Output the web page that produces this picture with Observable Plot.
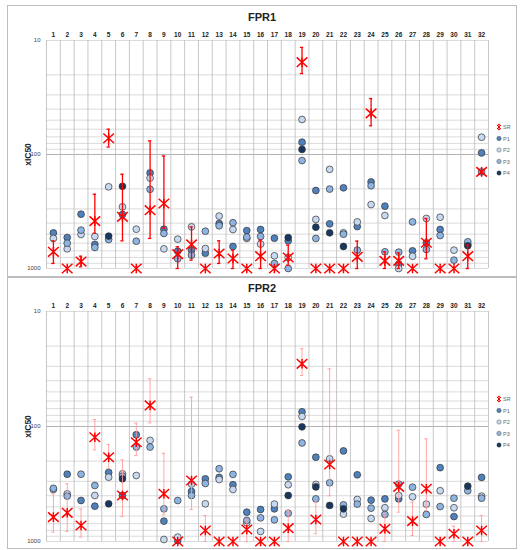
<!DOCTYPE html>
<html><head><meta charset="utf-8">
<script src="https://cdn.jsdelivr.net/npm/d3@7"></script>
<script src="https://cdn.jsdelivr.net/npm/@observablehq/plot@0.6"></script>
<style>
body{margin:0;width:520px;height:550px;position:relative;background:#fff;font-family:"Liberation Sans",Arial,sans-serif;overflow:hidden}
.pl{position:absolute;left:0}
.box{position:absolute;border:1px solid #bdbdbd;left:7px;width:508px;height:270px;pointer-events:none}
.title{position:absolute;left:0;width:524px;text-align:center;font-weight:bold;font-size:11px;line-height:12px;color:#222}
g[aria-label="y-axis label"] text{font-weight:bold;font-size:8.5px;fill:#222}
#leg{position:absolute;left:0;top:0}
</style></head>
<body>
<div id="p1" class="pl" style="top:0"></div>
<div id="p2" class="pl" style="top:276px"></div>
<div class="box" style="top:5px"></div>
<div class="box" style="top:277px"></div>
<div class="title" style="top:11px">FPR1</div>
<div class="title" style="top:282px">FPR2</div>
<svg id="leg" width="520" height="550"></svg>
<script>
const cats = [1,2,3,4,5,6,7,8,9,10,11,12,13,14,15,16,17,18,19,20,21,22,23,24,25,26,27,28,29,30,31,32];
const series = ["P1","P2","P3","P4"];
const seriesColors = ["#4f81bd","#c6d9f1","#8db4e2","#17375e"];

// FPR1
const fpr1_SR   = [714,1000,869,384,72,352,1000,308,269,748,615,1000,738,817,1000,780,1000,801,15.5,1000,1000,1000,790,43.6,857,857,1000,595,1000,1000,780,142];
const fpr1_SRlo = [573,null,780,223,60,149,null,76,103,645,432,null,572,690,null,564,null,624,11.5,null,null,null,575,32.3,714,730,null,364,null,null,624,null];
const fpr1_SRhi = [903,null,966,490,86,572,null,545,443,1000,845,null,903,1000,null,1000,null,935,19.5,null,null,null,1000,56,1000,1000,null,822,null,null,1000,null];
const fpr1_P1 = [487,535,334,615,null,336,null,145,452,705,690,734,403,641,465,455,542,572,78,207,406,196,429,174,284,916,700,595,455,null,null,96.8];
const fpr1_P2 = [545,672,503,524,192,288,452,161,672,553,431,668,347,455,545,611,774,801,49.3,371,135,486,390,275,343,1000,780,364,355,690,615,70.5];
const fpr1_P3 = [null,600,461,654,557,null,576,202,493,822,764,471,422,397,530,524,904,1000,113,545,201,500,690,188,714,719,390,681,514,845,583,142];
const fpr1_P4 = [null,null,null,null,520,190,null,null,null,null,null,null,null,null,null,null,null,535,90.3,434,486,641,null,null,null,null,null,null,null,null,632,null];

// FPR2
const fpr2_SR   = [614,563,726,124,185,398,137,65.6,385,1000,295,802,1000,1000,787,1000,1000,766,28.5,644,214,1000,1000,1000,776,335,665,348,1000,857,1000,802];
const fpr2_SRlo = [385,315,520,87,143,195,93.5,38.5,171,null,55.6,594,null,null,648,null,null,537,21.1,455,31.5,null,null,null,574,108,455,128,null,736,null,594];
const fpr2_SRhi = [830,818,916,160,233,607,179,93,586,null,527,1000,null,null,1000,null,null,1000,36,857,400,null,null,null,1000,556,887,537,null,1000,null,1000];
const fpr2_P1 = [null,260,440,493,251,398,118,null,665,980,367,285,277,321,556,527,520,274,74.5,185,null,163,263,437,426,426,null,null,228,607,null,277];
const fpr2_P2 = [353,385,null,398,276,258,267,132,961,916,317,470,289,353,688,818,473,321,81.8,319,191,578,431,631,509,398,409,473,362,509,null,403];
const fpr2_P3 = [345,403,260,326,null,270,151,151,520,440,398,313,233,261,656,623,648,568,139,426,309,480,473,513,582,317,337,582,497,420,362,420];
const fpr2_P4 = [null,null,null,null,470,285,null,null,null,null,null,null,null,null,null,null,null,398,100.7,335,486,520,null,null,null,null,null,null,null,null,330,null];

const yTickLabels = [10,100,1000];

const star = {
  draw(ctx, size) {
    const r = Math.sqrt(size / Math.PI);
    const h = r * 0.9;
    ctx.moveTo(-r, -h); ctx.lineTo(r, h);
    ctx.moveTo(-r, h); ctx.lineTo(r, -h);
    ctx.moveTo(0, -h); ctx.lineTo(0, h);
  }
};

function panel(sel, cfg) {
  const rows = [];
  series.forEach(s => cats.forEach((c, i) => {
    const v = cfg[s][i];
    if (v != null) rows.push({cat: c, series: s, value: v});
  }));
  const sr = cats.map((c, i) => ({cat: c, value: cfg.SR[i], lo: cfg.lo[i], hi: cfg.hi[i]}));
  const err = sr.filter(d => d.lo != null);
  const bounds = cats.map(c => c - 0.5).concat([cats[cats.length - 1] + 0.5]);
  const grid = d3.scaleLog().domain([10, 1000]).ticks();
  const cw = 0.12;
  const p = Plot.plot({
    width: 520, height: cfg.height,
    marginLeft: 46, marginRight: 32, marginTop: cfg.mt, marginBottom: cfg.mb,
    style: {background: "transparent", fontFamily: "Liberation Sans, Arial, sans-serif"},
    x: {type: "linear", domain: [0.5, 32.5]},
    y: {type: "log", domain: [1000, 10]},
    color: {domain: series, range: seriesColors},
    marks: [
      Plot.ruleY(grid, {stroke: d => d === 100 ? "#a0a0a0" : "#d2d2d2", strokeWidth: 0.8}),
      Plot.ruleX(bounds, {stroke: "#bababa", strokeWidth: 0.8}),
      Plot.axisX(cats, {anchor: "top", tickSize: 0, tickPadding: 4, fontWeight: "bold", fontSize: 6.5, fill: "#222", label: null}),
      Plot.axisY(yTickLabels, {anchor: "left", tickSize: 0, tickPadding: 6, fontSize: 6, fill: "#444", tickFormat: d => String(d),
        label: "xIC50", labelAnchor: "center", labelArrow: "none", labelOffset: 22}),
      Plot.dot(rows, {x: "cat", y: "value", fill: "series", r: 3.4, stroke: "#333", strokeWidth: 0.7}),
      Plot.ruleX(err, {x: "cat", y1: "lo", y2: "hi", stroke: cfg.errColor, strokeWidth: cfg.errWidth}),
      Plot.ruleY(err, {y: "lo", x1: d => d.cat - cw, x2: d => d.cat + cw, stroke: cfg.errColor, strokeWidth: cfg.errWidth}),
      Plot.ruleY(err, {y: "hi", x1: d => d.cat - cw, x2: d => d.cat + cw, stroke: cfg.errColor, strokeWidth: cfg.errWidth}),
      Plot.dot(sr, {x: "cat", y: "value", symbol: star, r: 5.3, stroke: "#ff0000", strokeWidth: 1.5, fill: "none"})
    ]
  });
  document.getElementById(sel).appendChild(p);
}

panel("p1", {SR: fpr1_SR, lo: fpr1_SRlo, hi: fpr1_SRhi, P1: fpr1_P1, P2: fpr1_P2, P3: fpr1_P3, P4: fpr1_P4,
  height: 276, mt: 40, mb: 8, errColor: "#ff0000", errWidth: 1.3});
panel("p2", {SR: fpr2_SR, lo: fpr2_SRlo, hi: fpr2_SRhi, P1: fpr2_P1, P2: fpr2_P2, P3: fpr2_P3, P4: fpr2_P4,
  height: 274, mt: 35, mb: 9, errColor: "#ff9c9c", errWidth: 0.9});

// legends
const legendNames = ["SR","P1","P2","P3","P4"];
const leg = d3.select("#leg");
[[499, 127], [499, 399]].forEach(([lx, ly]) => {
  legendNames.forEach((n, i) => {
    const y = ly + i * 11.5;
    const g = leg.append("g").attr("transform", `translate(${lx},${y})`);
    if (n === "SR") {
      g.append("path").attr("d", "M-2,-2L2,2M-2,2L2,-2M0,-2.6L0,2.6M-1.2,-2.6L1.2,-2.6M-1.2,2.6L1.2,2.6")
        .attr("stroke", "#ff0000").attr("stroke-width", 1).attr("fill", "none");
    } else {
      g.append("circle").attr("r", 2.2).attr("fill", seriesColors[series.indexOf(n)])
        .attr("stroke", "#3a3a3a").attr("stroke-width", 0.4);
    }
    g.append("text").attr("x", 4).attr("y", 2).attr("font-size", 5.5).attr("fill", "#666")
      .attr("font-family", "Liberation Sans, Arial, sans-serif").text(n);
  });
});
</script>
</body></html>
